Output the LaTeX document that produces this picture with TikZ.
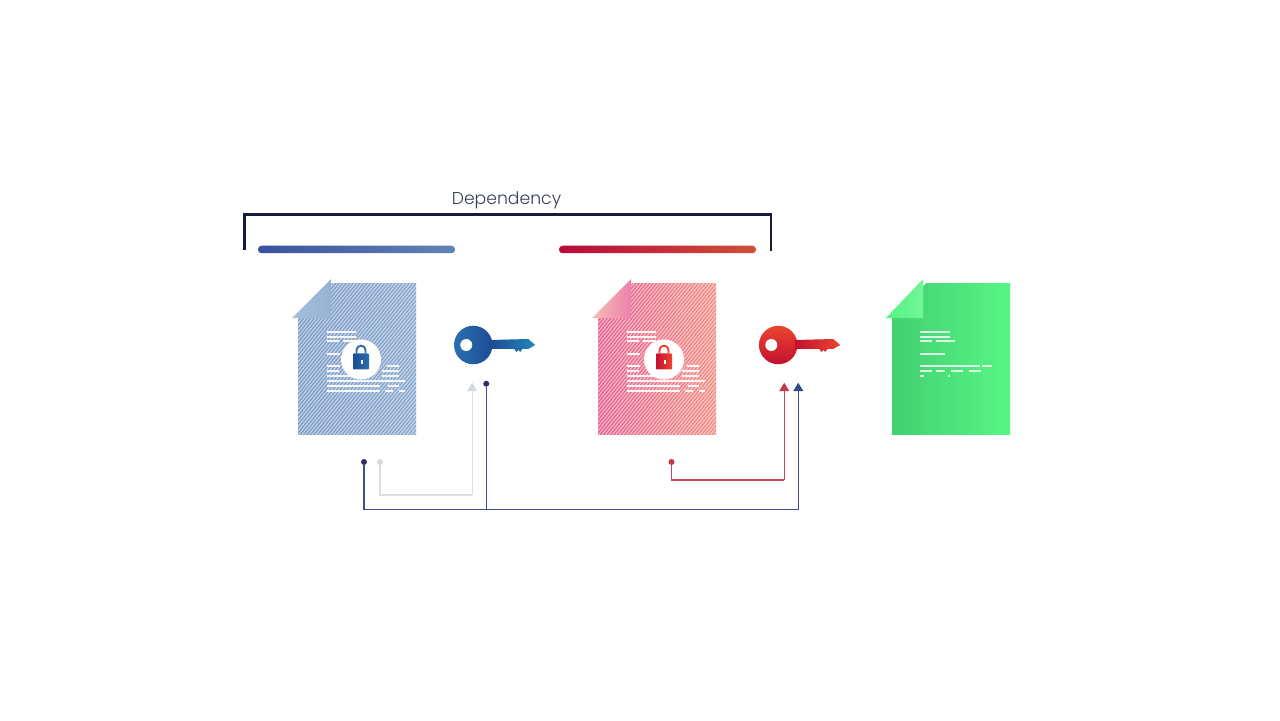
\documentclass[tikz,border=0pt]{standalone}
\usepackage{fontspec}
\setmainfont{Poppins Light}
\usepackage{tikz}
\usetikzlibrary{positioning,calc,arrows.meta}
\definecolor{navyink}{HTML}{141B3C}
\definecolor{navyline}{HTML}{434C8E}
\definecolor{navydot}{HTML}{2F2E6B}
\definecolor{navytip}{HTML}{2F4A8C}
\definecolor{redline}{HTML}{C24A5C}
\definecolor{redtip}{HTML}{C23A4E}
\definecolor{greyline}{HTML}{DDE0E1}
\definecolor{greytip}{HTML}{D3DBE0}
\definecolor{blueleft}{HTML}{7E9DC8}
\definecolor{blueright}{HTML}{8AA9CF}
\definecolor{pinkleft}{HTML}{E86293}
\definecolor{pinkright}{HTML}{F29083}
\definecolor{greenleft}{HTML}{42D070}
\definecolor{greenright}{HTML}{58F585}
\definecolor{keyblue}{HTML}{2A6FB0}
\definecolor{keybluedark}{HTML}{1C4C94}
\definecolor{keyred}{HTML}{EC4530}
\definecolor{keyreddark}{HTML}{C2102E}
\tikzset{
	docbox/.style={minimum width=2.36cm,minimum height=3.02cm,inner sep=0pt,outer sep=0pt},
	hatched/.style={path picture={
		\foreach \x in {-4.4,-4.33,...,2.4}
			\draw[white,opacity=0.55,line width=0.6pt] (\x,-1.6)--(\x+2.6,1.6);
	}},
	docline/.style={white,opacity=0.9,line width=0.75pt},
	keyhead/.style={circle,minimum size=0.77cm,inner sep=0pt,outer sep=0pt},
	lockdisc/.style={circle,fill=white,minimum size=0.8cm,inner sep=0pt,outer sep=0pt},
	lockbody/.style={minimum size=0.32cm,inner sep=0pt,outer sep=0pt,rounded corners=0.5pt},
	barbox/.style={minimum width=3.94cm,minimum height=0.15cm,inner sep=0pt,outer sep=0pt,rounded corners=2pt},
	dot/.style={circle,minimum size=0.12cm,inner sep=0pt,outer sep=0pt},
	conn/.style={line width=0.8pt},
	tip/.style={-{Triangle[length=0.17cm,width=0.2cm,color=#1]}}
}
\newcommand{\doctext}[3][docline]{
	\begin{scope}[shift={(#2.north west)},x=0.02cm,y=-0.02cm]
		\foreach \a/\b/\c in {#3}
			\draw[#1] (\a,\c)--(\b,\c);
	\end{scope}
}
\newcommand{\docfold}[4]{
	\begin{scope}[shift={(#1.north west)},x=0.02cm,y=-0.02cm]
		\fill[white] (-1,-1)--(34,-1)--(-1,34)--cycle;
		\shade[left color=#3,right color=#4] (#2,-5)--(-6,34)--(#2,34)--cycle;
	\end{scope}
}
\newcommand{\keyshaft}[3]{
	\begin{scope}[shift={(#1.center)},x=0.02cm,y=-0.02cm]
		\shade[left color=#2,right color=#3] (17,-5)--(55,-6)--(62,0)--(55,4)--(49,4)--(47,7)--(45,5)--(43,7)--(41,4)--(17,4)--cycle;
	\end{scope}
}
\newcommand{\padlock}[3]{
	\draw[#3,line width=1.1pt] ([xshift=-0.09cm]#1.north)--++(0,0.06)arc(180:0:0.09)--++(0,-0.06);
	\node[lockbody,left color=#2,right color=#3] (#1k) at (#1) {};
	\fill[white] ([yshift=0.03cm]#1.center) rectangle ++(0.03,-0.08);
}
\begin{document}
\begin{tikzpicture}
	\useasboundingbox (0,0) rectangle (25.6,14.4);
	
	\node[docbox,left color=blueleft,right color=blueright,hatched] (doc1) at (7.14,7.21) {};
	\docfold{doc1}{33}{blueright!75!white}{blueright!90!white}
	\doctext{doc1}{29/58/48,29/58/53,29/41/57,45/58/57,29/42/70,29/42/82,89/101/82,29/41/87,84/101/87,29/59/92,84/101/92,29/107/97,29/82/102,90/101/102,29/82/107,87/95/107,101/107/107}
	\node[lockdisc,shift={(0.08,0)}] (disc1) at (doc1.center) {};
	\node[shift={(0,-0.04)},minimum size=0.32cm,inner sep=0pt] (lock1) at (disc1.center) {};
	\padlock{lock1}{keybluedark}{keyblue}
	
	\node[keyhead,right=0.76cm of doc1,yshift=0.29cm,left color=keyblue,right color=keybluedark] (key1) {};
	\keyshaft{key1}{keybluedark}{keyblue!85!cyan}
	\node[circle,fill=white,minimum size=0.24cm,inner sep=0pt,shift={(-0.14,0)}] (hole1) at (key1.center) {};
	
	\node[docbox,right=3.64cm of doc1,left color=pinkleft,right color=pinkright,hatched] (doc2) {};
	\docfold{doc2}{33}{pinkright!60!white}{pinkleft!80!white}
	\doctext{doc2}{29/58/48,29/58/53,29/41/57,45/58/57,29/42/70,29/42/82,89/101/82,29/41/87,84/101/87,29/59/92,84/101/92,29/107/97,29/82/102,90/101/102,29/82/107,87/95/107,101/107/107}
	\node[lockdisc,shift={(0.14,0)}] (disc2) at (doc2.center) {};
	\node[shift={(0,-0.04)},minimum size=0.32cm,inner sep=0pt] (lock2) at (disc2.center) {};
	\padlock{lock2}{keyreddark}{keyred}
	
	\node[keyhead,right=0.86cm of doc2,yshift=0.29cm,top color=keyred,bottom color=keyreddark] (key2) {};
	\keyshaft{key2}{keyreddark}{keyred}
	\node[circle,fill=white,minimum size=0.24cm,inner sep=0pt,shift={(-0.14,0)}] (hole2) at (key2.center) {};
	
	\node[docbox,right=3.52cm of doc2,left color=greenleft,right color=greenright] (doc3) {};
	\docfold{doc3}{31}{greenright!90!greenleft}{greenright!85!white}
	\doctext[white,line width=0.7pt,opacity=0.8]{doc3}{28/58/48,28/58/53,28/40/57,44/63/57,28/53/70,28/88/82,90/100/82,28/40/87,44/53/87,59/71/87,77/89/87,28/32/92,56/58/92}
	
	\node[barbox,left color={rgb,255:red,56;green,82;blue,160},right color={rgb,255:red,98;green,132;blue,180}] (bar1) at (7.13,9.41) {};
	\node[barbox,right=2.08cm of bar1,left color={rgb,255:red,184;green,10;blue,60},right color={rgb,255:red,208;green,80;blue,56}] (bar2) {};
	
	\coordinate (bracketa) at (4.89,9.4);
	\coordinate (bracketb) at (15.42,9.38);
	\coordinate (brackettop) at (10.13,10.11);
	\draw[navyink,line width=1.4pt] (bracketa)|-(brackettop)-|(bracketb);
	\node[text=navyink!85!white,font=\fontsize{9.8pt}{12pt}\selectfont,above=-0.02cm of brackettop] (dep) {Dependency};
	
	\node[dot,fill=navydot,shift={(0.14,-0.54)}] (navystart) at (doc1.south) {};
	\node[dot,fill=greytip,shift={(0.46,-0.54)}] (greystart) at (doc1.south) {};
	\node[dot,fill=redtip,shift={(0.29,-0.54)}] (redstart) at (doc2.south) {};
	\node[dot,fill=navydot,shift={(0.26,-0.39)}] (navytop) at (key1.south) {};
	\coordinate[shift={(-0.02,-0.37)}] (greyend) at (key1.south);
	\coordinate[shift={(0.12,-0.37)}] (redend) at (key2.south);
	\coordinate[shift={(0.4,-0.37)}] (navyend) at (key2.south);
	
	\coordinate (greylow) at (greyend |- 0,4.5);
	\coordinate (redlow) at (redend |- 0,4.8);
	\coordinate (navylow) at (navytop |- 0,4.21);
	
	\draw[conn,greyline] (greystart)|-(greylow);
	\draw[conn,greyline,tip=greytip] (greylow)--(greyend);
	\draw[conn,redline] (redstart)|-(redlow);
	\draw[conn,redline,tip=redtip] (redlow)--(redend);
	\draw[conn,navyline] (navystart)|-(navylow);
	\draw[conn,navyline] (navytop)--(navylow);
	\draw[conn,navyline,tip=navytip] (navylow)-|(navyend);
\end{tikzpicture}
\end{document}
